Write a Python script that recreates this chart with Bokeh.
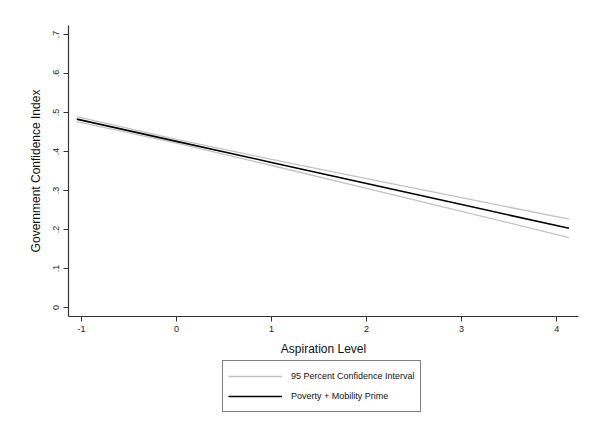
from bokeh.plotting import figure
from bokeh.models import FixedTicker, Legend, LegendItem, Range1d
from bokeh.layouts import column
from bokeh.embed import file_html
from bokeh.resources import INLINE

# Data
aspiration = [-1.05, 0, 1, 2, 3, 4.13]
fit = [0.483, 0.426, 0.372, 0.318, 0.264, 0.203]
ci_upper = [0.4895, 0.4308, 0.3799, 0.3306, 0.2816, 0.2265]
ci_lower = [0.4765, 0.4212, 0.3641, 0.3054, 0.2464, 0.1795]

x_ticks = [-1, 0, 1, 2, 3, 4]
x_tick_labels = ["-1", "0", "1", "2", "3", "4"]
y_ticks = [0, 0.1, 0.2, 0.3, 0.4, 0.5, 0.6, 0.7]
y_tick_labels = ["0", ".1", ".2", ".3", ".4", ".5", ".6", ".7"]

FONT = "Liberation Sans"
CI_COLOR = "#c2c2c2"
W = 590

p = figure(width=W, height=358, output_backend="svg", toolbar_location=None,
           x_range=Range1d(-1.137, 4.23), y_range=Range1d(-0.023, 0.723),
           min_border_left=68, min_border_top=25, min_border_right=12,
           min_border_bottom=40)
p.outline_line_color = None
p.xgrid.grid_line_color = None
p.ygrid.grid_line_color = None
p.background_fill_color = "white"
p.border_fill_color = "white"

p.line(aspiration, ci_upper, line_color=CI_COLOR, line_width=1.3)
p.line(aspiration, ci_lower, line_color=CI_COLOR, line_width=1.3)
p.line(aspiration, fit, line_color="black", line_width=1.6)

for ax in (p.xaxis[0], p.yaxis[0]):
    ax.axis_line_color = "#333333"
    ax.axis_line_width = 1.2
    ax.major_tick_line_color = "#333333"
    ax.major_tick_in = 0
    ax.major_tick_out = 5
    ax.minor_tick_line_color = None
    ax.major_label_text_font = FONT
    ax.major_label_text_font_size = "9px"
    ax.major_label_text_color = "#222222"
    ax.axis_label_text_font = FONT
    ax.axis_label_text_font_size = "12px"
    ax.axis_label_text_font_style = "normal"
    ax.axis_label_text_color = "#111111"
    ax.major_label_standoff = 4

p.xaxis.ticker = FixedTicker(ticks=x_ticks)
p.xaxis.major_label_overrides = {t: l for t, l in zip(x_ticks, x_tick_labels)}
p.yaxis.ticker = FixedTicker(ticks=y_ticks)
p.yaxis.major_label_overrides = {t: l for t, l in zip(y_ticks, y_tick_labels)}
p.yaxis.major_label_orientation = "vertical"
p.xaxis.axis_label = "Aspiration Level"
p.yaxis.axis_label = "Government Confidence Index"
p.xaxis.axis_label_standoff = 7
p.yaxis.axis_label_standoff = 8

# Legend panel below the plot (its frame is aligned with the main frame)
lg = figure(width=W, height=62, output_backend="svg", toolbar_location=None,
            x_range=Range1d(0, 1), y_range=Range1d(0, 1),
            min_border_left=68, min_border_right=12, min_border_top=0, min_border_bottom=0)
lg.axis.visible = False
lg.grid.visible = False
lg.outline_line_color = None
lg.border_fill_color = "white"
# legend-only renderers, their data lie outside the visible range
lr_ci = lg.line([5, 6], [5, 6], line_color=CI_COLOR, line_width=1.3)
lr_fit = lg.line([5, 6], [5, 6], line_color="black", line_width=1.6)

legend = Legend(items=[LegendItem(label="95 Percent Confidence Interval", renderers=[lr_ci]),
                       LegendItem(label="Poverty + Mobility Prime", renderers=[lr_fit])],
                location=(154, 8), orientation="vertical")
legend.border_line_color = "black"
legend.border_line_width = 1
legend.background_fill_color = "white"
legend.background_fill_alpha = 1
legend.label_text_font = FONT
legend.label_text_font_size = "9px"
legend.label_text_color = "#111111"
legend.glyph_width = 54
legend.glyph_height = 20
legend.label_height = 20
legend.label_standoff = 9
legend.spacing = 0
legend.padding = 5
legend.margin = 0
lg.add_layout(legend)

layout = column(p, lg, spacing=0)
open("out.html", "w").write(file_html(layout, INLINE))
